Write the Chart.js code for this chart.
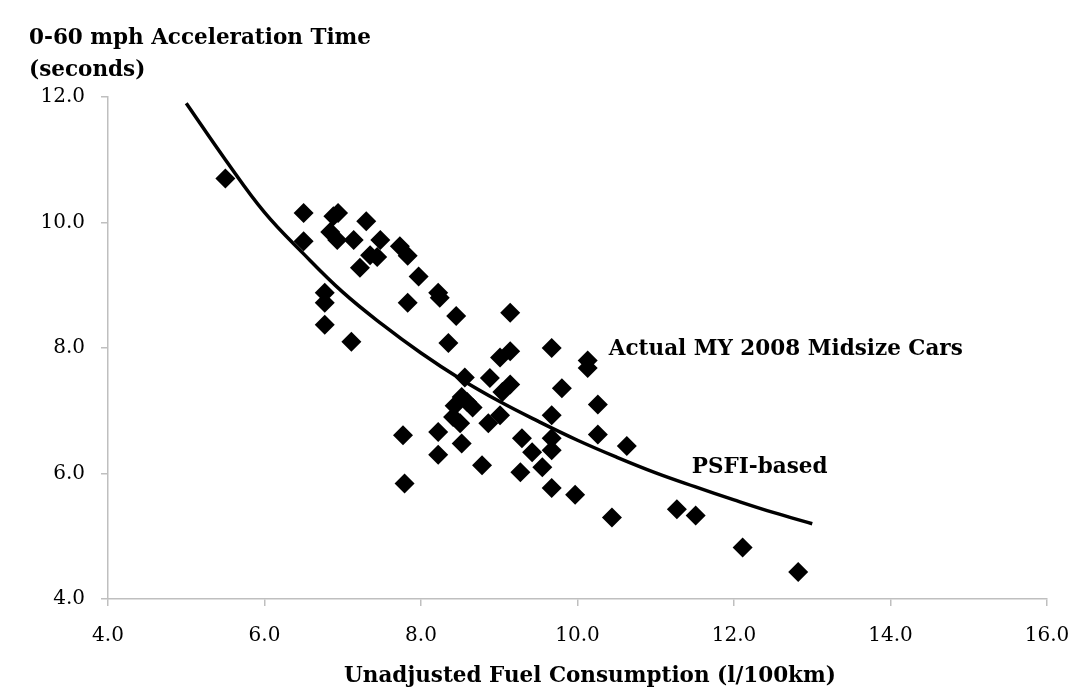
<!DOCTYPE html>
<html>
<head>
<meta charset="utf-8">
<script src="https://cdn.jsdelivr.net/npm/chart.js@4/dist/chart.umd.min.js"></script>
<style>
  html, body { margin: 0; padding: 0; background: #fff; }
  #wrap { width: 1077px; height: 693px; }
</style>
</head>
<body>
<div id="wrap"><canvas id="accelChart" width="1077" height="693"></canvas></div>
<script>
// Actual MY 2008 midsize cars (fuel l/100km, 0-60 time s)
const fuelX = [5.5, 6.5, 6.5, 6.88, 6.94, 6.84, 6.93, 7.14, 7.3, 7.48, 7.35, 7.44, 7.22, 7.73, 7.83, 7.97,
    8.22, 8.24, 8.45, 7.83, 6.77, 6.77, 6.77, 7.11, 8.35, 9.14, 9.67, 9.01, 9.14, 10.13, 10.13,
    8.56, 8.88, 9.14, 9.04, 9.8, 10.26, 8.52, 8.59, 8.66, 8.43, 8.41, 8.5, 8.86, 9.01, 9.67,
    7.77, 8.22, 8.22, 8.52, 9.29, 9.42, 9.67, 9.67, 10.26, 10.63, 8.78, 9.27, 9.55, 9.67, 9.97,
    7.79, 10.44, 11.27, 11.51, 12.11, 12.82];
const accelY = [10.7, 10.15, 9.7, 10.1, 10.15, 9.85, 9.72, 9.72, 10.02, 9.72, 9.48, 9.45, 9.28, 9.62, 9.47, 9.14,
    8.88, 8.8, 8.51, 8.72, 8.88, 8.72, 8.37, 8.1, 8.08, 8.56, 8.0, 7.85, 7.95, 7.8, 7.68,
    7.53, 7.52, 7.42, 7.3, 7.36, 7.1, 7.22, 7.14, 7.05, 7.08, 6.9, 6.8, 6.8, 6.93, 6.93,
    6.61, 6.66, 6.3, 6.48, 6.56, 6.34, 6.56, 6.37, 6.62, 6.44, 6.13, 6.02, 6.1, 5.77, 5.66,
    5.84, 5.3, 5.43, 5.33, 4.82, 4.43];

// PSFI-based curve
const psfiX = [5, 5.5, 6, 6.5, 7, 7.5, 8, 8.5, 9, 9.5, 10, 10.5, 11, 11.5, 12, 12.5, 13];
const psfiY = [11.9, 11.0, 10.16, 9.5, 8.89, 8.38, 7.92, 7.51, 7.15, 6.83, 6.53, 6.26, 6.01, 5.79, 5.58, 5.38, 5.2];

// axis ranges and tick labels
const xRange = [4, 16];
const yRange = [4, 12];
const tickStep = 2;

const yTitle = ['0-60 mph Acceleration Time', '(seconds)'];
const xTitle = 'Unadjusted Fuel Consumption (l/100km)';

// text labels placed in data coordinates
const notes = [
    { text: 'Actual MY 2008 Midsize Cars', x: 10.4, y: 7.98 },
    { text: 'PSFI-based', x: 11.46, y: 6.09 }
];

const serif = '"DejaVu Serif", serif';

const textPlugin = {
    id: 'textPlugin',
    afterDraw(chart) {
        const ctx = chart.ctx;
        const xs = chart.scales.x, ys = chart.scales.y;
        ctx.save();
        ctx.fillStyle = '#000';
        ctx.font = 'bold 21.5px ' + serif;
        ctx.textBaseline = 'middle';
        ctx.textAlign = 'left';
        ctx.fillText(yTitle[0], 29, 38);
        ctx.fillText(yTitle[1], 29, 70);
        ctx.textAlign = 'center';
        ctx.fillText(xTitle, 590, 676);
        ctx.textAlign = 'left';
        notes.forEach(n => {
            ctx.fillText(n.text, xs.getPixelForValue(n.x), ys.getPixelForValue(n.y));
        });
        ctx.restore();
    }
};

new Chart(document.getElementById('accelChart'), {
    type: 'scatter',
    data: {
        datasets: [{
            label: 'Actual MY 2008 Midsize Cars',
            data: fuelX.map((x, i) => ({ x: x, y: accelY[i] })),
            pointStyle: 'rectRot',
            pointRadius: 10,
            backgroundColor: '#000',
            borderColor: '#000',
            borderWidth: 0
        }, {
            label: 'PSFI-based',
            type: 'line',
            data: psfiX.map((x, i) => ({ x: x, y: psfiY[i] })),
            borderColor: '#000',
            borderWidth: 3.5,
            pointRadius: 0,
            fill: false,
            tension: 0.4
        }]
    },
    options: {
        responsive: false,
        animation: false,
        layout: { padding: { top: 97, right: 30, left: 0, bottom: 0 } },
        plugins: {
            legend: { display: false },
            tooltip: { enabled: false }
        },
        scales: {
            x: {
                type: 'linear',
                min: xRange[0], max: xRange[1],
                afterFit(scale) {
                    scale.height = 94;
                    scale.paddingRight = 0;
                    scale.paddingLeft = 0;
                },
                border: { display: true, color: '#bfbfbf', width: 1.5 },
                grid: { drawOnChartArea: false, drawTicks: true, tickLength: 7, color: '#bfbfbf', lineWidth: 1.5 },
                ticks: {
                    stepSize: tickStep,
                    padding: 18,
                    color: '#000',
                    font: { family: serif, size: 20 },
                    callback: v => v.toFixed(1)
                }
            },
            y: {
                type: 'linear',
                min: yRange[0], max: yRange[1],
                afterFit(scale) { scale.width = 108; },
                border: { display: true, color: '#bfbfbf', width: 1.5 },
                grid: { drawOnChartArea: false, drawTicks: true, tickLength: 7, color: '#bfbfbf', lineWidth: 1.5 },
                ticks: {
                    stepSize: tickStep,
                    padding: 16,
                    color: '#000',
                    font: { family: serif, size: 20 },
                    callback: v => v.toFixed(1)
                }
            }
        }
    },
    plugins: [textPlugin]
});
</script>
</body>
</html>
